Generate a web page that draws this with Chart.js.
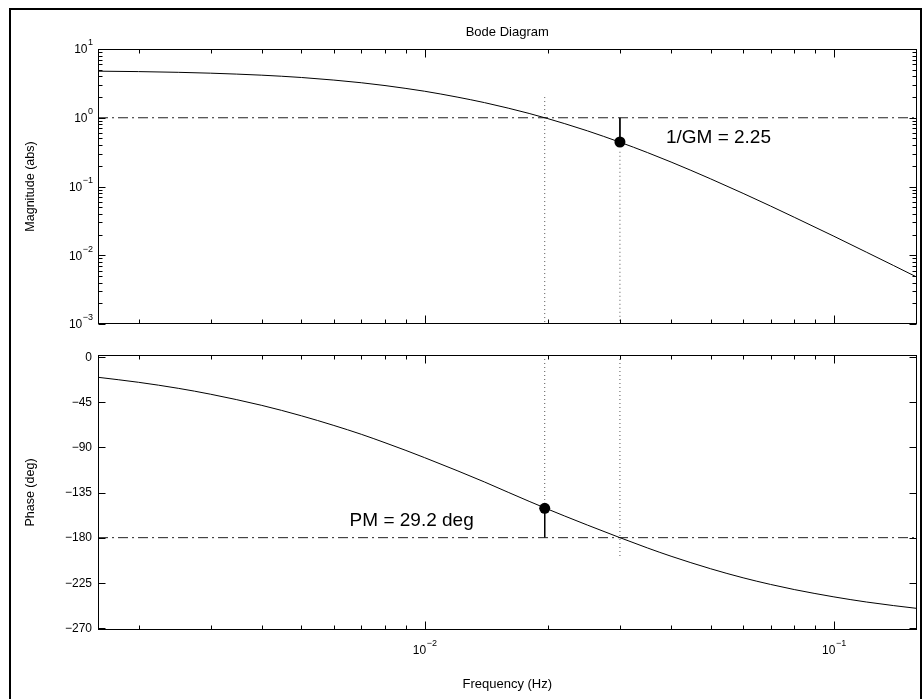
<!DOCTYPE html>
<html><head><meta charset="utf-8">
<script src="https://cdn.jsdelivr.net/npm/chart.js@4.4.1/dist/chart.umd.min.js"></script>
<style>
html,body{margin:0;padding:0;background:#fff;}
#wrap{position:relative;width:922px;height:699px;overflow:hidden;background:#fff;}
canvas{position:absolute;left:0;top:0;}
</style></head><body>
<div id="wrap"><canvas id="magChart" width="922" height="699"></canvas><canvas id="phaseChart" width="922" height="699"></canvas></div>
<script>
// ---- data ----
const freqHz    = [0.00159, 0.002, 0.0025, 0.003, 0.004, 0.005, 0.006, 0.007, 0.008, 0.009, 0.01, 0.012, 0.014, 0.016, 0.018, 0.02, 0.022, 0.025, 0.03, 0.035, 0.04, 0.05, 0.06, 0.07, 0.08, 0.1, 0.12, 0.14, 0.159];
const magnitude = [4.76, 4.69, 4.58, 4.45, 4.16, 3.85, 3.53, 3.23, 2.94, 2.67, 2.43, 2.00, 1.66, 1.38, 1.155, 0.971, 0.820, 0.644, 0.441, 0.312, 0.227, 0.129, 0.0794, 0.0520, 0.0357, 0.0189, 0.0111, 0.00707, 0.00485];
const phaseDeg  = [-20.2, -25.2, -31.2, -37.1, -48.2, -58.6, -68.2, -77.0, -85.4, -93.1, -100.3, -113.2, -124.5, -134.8, -143.8, -151.6, -158.5, -167.5, -180.0, -190.2, -198.5, -211.0, -220.0, -226.6, -231.7, -239.0, -244.1, -247.7, -250.4];

const freqTicks    = [0.01, 0.1];
const freqTickExp  = ['\u22122', '\u22121'];
const magTicks     = [0.001, 0.01, 0.1, 1, 10];
const magTickExp   = ['\u22123', '\u22122', '\u22121', '0', '1'];
const phaseTicks   = [0, -45, -90, -135, -180, -225, -270];
const phaseTickLbl = ['0', '\u221245', '\u221290', '\u2212135', '\u2212180', '\u2212225', '\u2212270'];

const freqRange  = [0.0015915, 0.15915];
const magRange   = [0.001, 10];
const phaseRange = [-272, 2];

const gainCrossHz   = 0.01965;
const phaseCrossHz  = 0.0300;
const invGainMargin = 0.444;
const pmPhase       = -150.8;
const unityMag      = 1;
const critPhase     = -180;
const gcDottedMag   = [2.0, 0.001];
const pcDottedMag   = [0.32, 0.001];
const gcDottedPhase = [2, -142.4];
const pcDottedPhase = [2, -200];

const titleText  = 'Bode Diagram';
const magLabel   = 'Magnitude (abs)';
const phaseLabel = 'Phase (deg)';
const freqLabel  = 'Frequency (Hz)';
const gmText     = '1/GM = 2.25';
const pmText     = 'PM = 29.2 deg';

// ---- helpers ----
const FONT = '"Liberation Sans", Arial, Helvetica, sans-serif';
const crisp = v => Math.round(v) + 0.5;
function seg(ctx, x1, y1, x2, y2){ ctx.beginPath(); ctx.moveTo(x1, y1); ctx.lineTo(x2, y2); ctx.stroke(); }
function logTicks(min, max){
  const out = [];
  for (let e = Math.floor(Math.log10(min)) - 1; e <= Math.ceil(Math.log10(max)); e++){
    for (let m = 1; m <= 9; m++){
      const v = m * Math.pow(10, e);
      if (v >= min * 0.9999 && v <= max * 1.0001) out.push({v, major: m === 1});
    }
  }
  return out;
}
function pts(xs, ys){ return xs.map((x, i) => ({x, y: ys[i]})); }

function drawBox(chart, kind){
  const {ctx, chartArea: a, scales: {x, y}} = chart;
  const L = crisp(a.left), R = crisp(a.right) - 1, T = crisp(a.top), B = crisp(a.bottom) - 1;
  ctx.save();
  ctx.strokeStyle = '#000'; ctx.lineWidth = 1;
  ctx.strokeRect(L, T, R - L, B - T);
  for (const t of logTicks(freqRange[0], freqRange[1])){
    const px = crisp(x.getPixelForValue(t.v));
    if (px <= L + 1 || px >= R - 1) continue;
    const len = t.major ? 8 : 4;
    seg(ctx, px, T, px, T + len);
    seg(ctx, px, B, px, B - len);
  }
  if (kind === 'mag'){
    for (const t of logTicks(magRange[0], magRange[1])){
      const py = crisp(y.getPixelForValue(t.v));
      const len = t.major ? 7 : 4;
      seg(ctx, L, py, L + len, py);
      seg(ctx, R, py, R - len, py);
    }
  } else {
    for (const v of phaseTicks){
      const py = crisp(y.getPixelForValue(v));
      seg(ctx, L, py, L + 7, py);
      seg(ctx, R, py, R - 7, py);
    }
  }
  ctx.restore();
}

function drawPow(ctx, px, py, exp, align){
  ctx.font = '12px ' + FONT;
  const wb = ctx.measureText('10').width;
  ctx.font = '9px ' + FONT;
  const we = ctx.measureText(exp).width;
  let x0;
  if (align === 'right') x0 = px - wb - we - 0.5;
  else x0 = px - (wb + we) / 2;
  ctx.textAlign = 'left'; ctx.textBaseline = 'middle';
  ctx.font = '12px ' + FONT;
  ctx.fillText('10', x0, py + 1);
  ctx.font = '9px ' + FONT;
  ctx.fillText(exp, x0 + wb + 0.5, py - 6);
}

const decoPlugin = {
  id: 'deco',
  afterDraw(chart, args, opts){
    const {ctx, chartArea: a, scales: {x, y}} = chart;
    drawBox(chart, opts.kind);
    ctx.save();
    ctx.fillStyle = '#000';
    const cx = (a.left + a.right) / 2, cy = (a.top + a.bottom) / 2;
    if (opts.kind === 'mag'){
      ctx.strokeStyle = '#000'; ctx.lineWidth = 2;
      ctx.strokeRect(10, 9, 911, 700);
      ctx.font = '13px ' + FONT; ctx.textAlign = 'center'; ctx.textBaseline = 'middle';
      ctx.fillText(titleText, cx, 32);
      magTicks.forEach((v, i) => drawPow(ctx, 93, y.getPixelForValue(v), magTickExp[i], 'right'));
      ctx.save(); ctx.translate(31, cy); ctx.rotate(-Math.PI / 2);
      ctx.font = '12.5px ' + FONT; ctx.textAlign = 'center'; ctx.textBaseline = 'middle';
      ctx.fillText(magLabel, 0, 0); ctx.restore();
      const gx = x.getPixelForValue(phaseCrossHz), gy = y.getPixelForValue(invGainMargin);
      ctx.font = '19px ' + FONT; ctx.textAlign = 'left'; ctx.textBaseline = 'middle';
      ctx.fillText(gmText, gx + 46, gy - 4);
    } else {
      ctx.font = '12px ' + FONT; ctx.textAlign = 'right'; ctx.textBaseline = 'middle';
      phaseTicks.forEach((v, i) => ctx.fillText(phaseTickLbl[i], 92, y.getPixelForValue(v) + 0.5));
      freqTicks.forEach((v, i) => drawPow(ctx, x.getPixelForValue(v), a.bottom + 20, freqTickExp[i], 'center'));
      ctx.save(); ctx.translate(31, cy); ctx.rotate(-Math.PI / 2);
      ctx.font = '12.5px ' + FONT; ctx.textAlign = 'center'; ctx.textBaseline = 'middle';
      ctx.fillText(phaseLabel, 0, 0); ctx.restore();
      ctx.font = '13px ' + FONT; ctx.textAlign = 'center'; ctx.textBaseline = 'middle';
      ctx.fillText(freqLabel, cx, 684);
      const px = x.getPixelForValue(gainCrossHz), py = y.getPixelForValue(critPhase);
      ctx.font = '19px ' + FONT; ctx.textAlign = 'right'; ctx.textBaseline = 'middle';
      ctx.fillText(pmText, px - 71, py - 17);
    }
    ctx.restore();
  }
};

function baseOptions(kind, yScale, padding){
  return {
    responsive: false, animation: false, events: [], devicePixelRatio: 1,
    layout: {padding},
    plugins: {legend: {display: false}, tooltip: {enabled: false}, deco: {kind}},
    scales: {
      x: {type: 'logarithmic', min: freqRange[0], max: freqRange[1], display: false},
      y: yScale
    },
    elements: {point: {radius: 0}, line: {borderWidth: 1}}
  };
}
const dotted = {borderColor: '#555', borderDash: [1, 3], borderWidth: 1, pointRadius: 0, fill: false};
const dashDot = {borderColor: '#222', borderDash: [10, 4, 2, 4], borderWidth: 1, pointRadius: 0, fill: false};
const stem = {borderColor: '#000', borderWidth: 1, pointRadius: 0, fill: false};
const marker = {showLine: false, pointRadius: 5.5, pointBackgroundColor: '#000', pointBorderColor: '#000', pointBorderWidth: 0};

new Chart(document.getElementById('magChart'), {
  type: 'line',
  data: {datasets: [
    {data: pts(freqHz, magnitude), borderColor: '#000', borderWidth: 1, pointRadius: 0, cubicInterpolationMode: 'monotone', fill: false},
    Object.assign({data: pts(freqRange, [unityMag, unityMag])}, dashDot),
    Object.assign({data: pts([gainCrossHz, gainCrossHz], gcDottedMag)}, dotted),
    Object.assign({data: pts([phaseCrossHz, phaseCrossHz], pcDottedMag)}, dotted),
    Object.assign({data: pts([phaseCrossHz, phaseCrossHz], [unityMag, invGainMargin])}, stem),
    Object.assign({data: pts([phaseCrossHz], [invGainMargin])}, marker)
  ]},
  options: baseOptions('mag', {type: 'logarithmic', min: magRange[0], max: magRange[1], display: false},
                       {left: 98, right: 3, top: 49, bottom: 375}),
  plugins: [decoPlugin]
});

new Chart(document.getElementById('phaseChart'), {
  type: 'line',
  data: {datasets: [
    {data: pts(freqHz, phaseDeg), borderColor: '#000', borderWidth: 1, pointRadius: 0, cubicInterpolationMode: 'monotone', fill: false},
    Object.assign({data: pts(freqRange, [critPhase, critPhase])}, dashDot),
    Object.assign({data: pts([gainCrossHz, gainCrossHz], gcDottedPhase)}, dotted),
    Object.assign({data: pts([phaseCrossHz, phaseCrossHz], pcDottedPhase)}, dotted),
    Object.assign({data: pts([gainCrossHz, gainCrossHz], [pmPhase, critPhase])}, stem),
    Object.assign({data: pts([gainCrossHz], [pmPhase])}, marker)
  ]},
  options: baseOptions('phase', {type: 'linear', min: phaseRange[0], max: phaseRange[1], display: false},
                       {left: 98, right: 3, top: 355, bottom: 69}),
  plugins: [decoPlugin]
});
</script>
</body></html>
